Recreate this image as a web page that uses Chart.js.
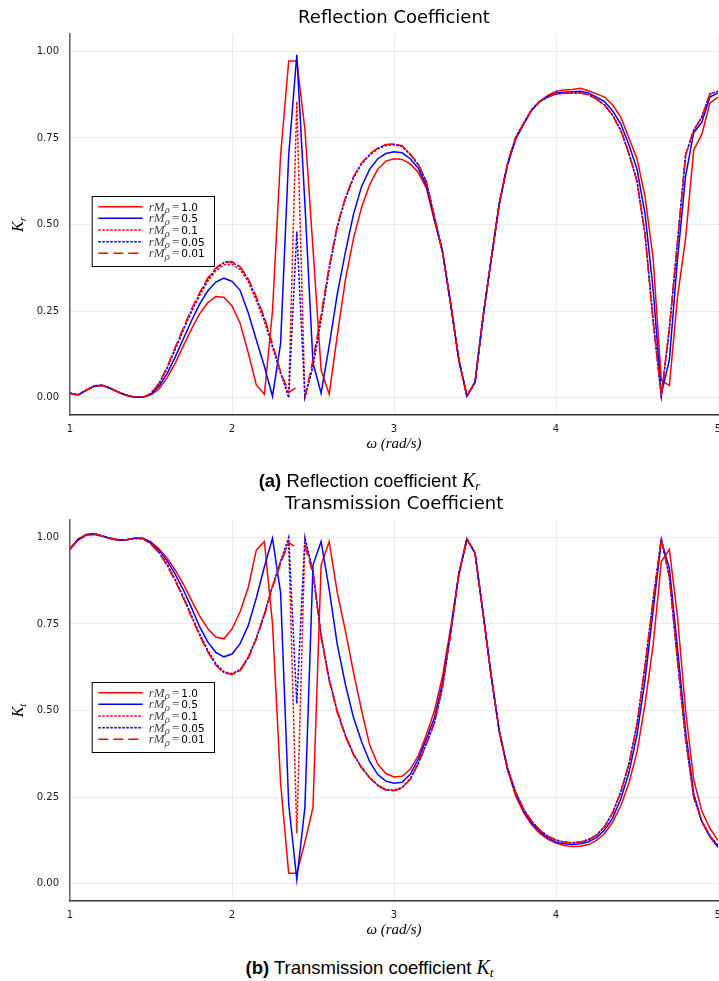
<!DOCTYPE html>
<html lang="en">

<head>
  <meta charset="UTF-8">
  <title>Reflection and Transmission Coefficients</title>
  <script src="https://cdn.jsdelivr.net/npm/chart.js"></script>
  <style>
    body { margin: 0; background: #fff; }
    #page { position: relative; width: 719px; height: 981px; overflow: hidden; }
    canvas { position: absolute; left: 0; display: block; }
    .caption {
      position: absolute; left: 10px; width: 719px; text-align: center;
      font-family: "Liberation Sans", Arial, sans-serif; font-size: 18.5px; color: #000;
      line-height: 22px; z-index: 2;
    }
    .caption .m { font-family: "Liberation Serif", serif; font-style: italic; font-size: 20px; }
    .caption sub { font-size: 13px; vertical-align: -3px; line-height: 0; }
  </style>
</head>

<body>
  <div id="page">
    <canvas id="krChart" width="719" height="455" style="top:0"></canvas>
    <div class="caption" style="top:469px"><b>(a)</b> Reflection coefficient <span class="m">K<sub>r</sub></span></div>
    <canvas id="ktChart" width="719" height="455" style="top:486px"></canvas>
    <div class="caption" style="top:956px"><b>(b)</b> Transmission coefficient <span class="m">K<sub>t</sub></span></div>
  </div>

  <script>
    // frequency grid (rad/s)
    const omega = [
      1.00, 1.05, 1.10, 1.15, 1.20, 1.25, 1.30, 1.35, 1.40, 1.45,
      1.50, 1.55, 1.60, 1.65, 1.70, 1.75, 1.80, 1.85, 1.90, 1.95,
      2.00, 2.05, 2.10, 2.15, 2.20, 2.25, 2.30, 2.35, 2.40, 2.45,
      2.50, 2.55, 2.60, 2.65, 2.70, 2.75, 2.80, 2.85, 2.90, 2.95,
      3.00, 3.05, 3.10, 3.15, 3.20, 3.25, 3.30, 3.35, 3.40, 3.45,
      3.50, 3.55, 3.60, 3.65, 3.70, 3.75, 3.80, 3.85, 3.90, 3.95,
      4.00, 4.05, 4.10, 4.15, 4.20, 4.25, 4.30, 4.35, 4.40, 4.45,
      4.50, 4.55, 4.60, 4.65, 4.70, 4.75, 4.80, 4.85, 4.90, 4.95,
      5.00
    ];
    const rmValues = ['1.0', '0.5', '0.1', '0.05', '0.01'];
    const xTicks = [1, 2, 3, 4, 5];
    const yTicks = [0, 0.25, 0.5, 0.75, 1];
    // the rM = 0.01 curve has no value between these two frequencies
    const gapFrom = 2.40;

    // Reflection coefficient Kr
    const krRm10 = [
      0.013, 0.008, 0.021, 0.032, 0.035, 0.026, 0.015, 0.006, 0.001, 0.001,
      0.008, 0.025, 0.058, 0.100, 0.150, 0.198, 0.242, 0.274, 0.292, 0.290,
      0.265, 0.215, 0.130, 0.037, 0.010, 0.250, 0.700, 0.972, 0.972, 0.775,
      0.430, 0.080, 0.010, 0.180, 0.340, 0.460, 0.550, 0.615, 0.660, 0.683,
      0.690, 0.688, 0.675, 0.650, 0.605, 0.510, 0.420, 0.270, 0.110, 0.005,
      0.044, 0.234, 0.400, 0.560, 0.670, 0.745, 0.790, 0.830, 0.856, 0.873,
      0.885, 0.888, 0.890, 0.893, 0.886, 0.877, 0.868, 0.845, 0.810, 0.750,
      0.690, 0.580, 0.400, 0.050, 0.035, 0.290, 0.460, 0.715, 0.760, 0.850,
      0.868
    ];
    const krRm05 = [
      0.013, 0.008, 0.022, 0.034, 0.036, 0.027, 0.016, 0.007, 0.001, 0.001,
      0.010, 0.033, 0.070, 0.118, 0.170, 0.222, 0.270, 0.308, 0.334, 0.345,
      0.336, 0.310, 0.245, 0.167, 0.090, 0.004, 0.157, 0.700, 0.990, 0.560,
      0.100, 0.013, 0.150, 0.300, 0.420, 0.530, 0.610, 0.660, 0.690, 0.705,
      0.710, 0.707, 0.690, 0.662, 0.612, 0.515, 0.420, 0.270, 0.110, 0.005,
      0.044, 0.234, 0.400, 0.560, 0.672, 0.747, 0.790, 0.830, 0.855, 0.870,
      0.880, 0.882, 0.883, 0.885, 0.880, 0.868, 0.855, 0.828, 0.790, 0.730,
      0.660, 0.530, 0.310, 0.010, 0.110, 0.400, 0.640, 0.765, 0.795, 0.868,
      0.880
    ];
    const krRm01 = [
      0.013, 0.008, 0.022, 0.034, 0.036, 0.027, 0.016, 0.007, 0.001, 0.001,
      0.012, 0.040, 0.085, 0.140, 0.195, 0.248, 0.295, 0.336, 0.366, 0.384,
      0.385, 0.370, 0.335, 0.280, 0.220, 0.145, 0.070, 0.012, 0.855, 0.005,
      0.095, 0.230, 0.375, 0.495, 0.575, 0.635, 0.675, 0.700, 0.718, 0.728,
      0.730, 0.725, 0.702, 0.672, 0.622, 0.520, 0.420, 0.270, 0.110, 0.005,
      0.044, 0.234, 0.400, 0.560, 0.675, 0.750, 0.792, 0.832, 0.855, 0.868,
      0.877, 0.879, 0.880, 0.880, 0.875, 0.862, 0.845, 0.815, 0.772, 0.705,
      0.625, 0.470, 0.220, 0.005, 0.200, 0.450, 0.700, 0.772, 0.810, 0.877,
      0.885
    ];
    const krRm005 = [
      0.013, 0.008, 0.022, 0.034, 0.036, 0.027, 0.016, 0.007, 0.001, 0.001,
      0.012, 0.041, 0.087, 0.143, 0.198, 0.252, 0.300, 0.342, 0.372, 0.390,
      0.390, 0.378, 0.342, 0.288, 0.228, 0.150, 0.072, 0.000, 0.480, 0.000,
      0.090, 0.225, 0.370, 0.492, 0.575, 0.636, 0.676, 0.702, 0.720, 0.730,
      0.732, 0.726, 0.703, 0.673, 0.623, 0.521, 0.420, 0.270, 0.110, 0.005,
      0.044, 0.234, 0.400, 0.560, 0.675, 0.750, 0.792, 0.832, 0.855, 0.868,
      0.877, 0.879, 0.880, 0.880, 0.875, 0.862, 0.845, 0.815, 0.772, 0.705,
      0.625, 0.470, 0.220, 0.005, 0.200, 0.450, 0.700, 0.772, 0.810, 0.877,
      0.885
    ];
    const krRm001 = [
      0.013, 0.008, 0.022, 0.034, 0.036, 0.027, 0.016, 0.007, 0.001, 0.001,
      0.012, 0.042, 0.089, 0.146, 0.202, 0.256, 0.303, 0.345, 0.374, 0.392,
      0.393, 0.378, 0.344, 0.292, 0.232, 0.155, 0.075, 0.015, 0.030, 0.000,
      0.110, 0.240, 0.380, 0.498, 0.578, 0.638, 0.678, 0.703, 0.721, 0.731,
      0.733, 0.727, 0.704, 0.674, 0.624, 0.522, 0.420, 0.270, 0.110, 0.005,
      0.044, 0.234, 0.400, 0.560, 0.675, 0.750, 0.792, 0.832, 0.855, 0.868,
      0.877, 0.879, 0.880, 0.880, 0.875, 0.862, 0.845, 0.815, 0.772, 0.705,
      0.625, 0.470, 0.220, 0.005, 0.200, 0.450, 0.700, 0.772, 0.810, 0.877,
      0.885
    ];

    // Transmission coefficient Kt
    const ktRm10 = [
      0.965, 0.992, 1.006, 1.008, 1.003, 0.996, 0.991, 0.993, 0.997, 0.997,
      0.987, 0.966, 0.940, 0.905, 0.865, 0.818, 0.773, 0.737, 0.712, 0.707,
      0.735, 0.785, 0.855, 0.963, 0.988, 0.750, 0.290, 0.030, 0.030, 0.120,
      0.220, 0.920, 0.988, 0.840, 0.730, 0.610, 0.500, 0.400, 0.345, 0.318,
      0.308, 0.310, 0.330, 0.370, 0.430, 0.500, 0.600, 0.740, 0.893, 0.995,
      0.955, 0.780, 0.600, 0.440, 0.330, 0.255, 0.205, 0.170, 0.145, 0.128,
      0.117, 0.110, 0.107, 0.108, 0.113, 0.125, 0.145, 0.178, 0.225, 0.290,
      0.380, 0.520, 0.690, 0.930, 0.965, 0.770, 0.500, 0.300, 0.210, 0.160,
      0.125
    ];
    const ktRm05 = [
      0.968, 0.995, 1.008, 1.010, 1.004, 0.997, 0.993, 0.993, 0.997, 0.997,
      0.985, 0.963, 0.932, 0.893, 0.848, 0.797, 0.742, 0.698, 0.668, 0.655,
      0.663, 0.693, 0.745, 0.825, 0.915, 0.997, 0.840, 0.230, 0.012, 0.220,
      0.920, 0.988, 0.850, 0.690, 0.575, 0.480, 0.410, 0.352, 0.315, 0.296,
      0.290, 0.293, 0.316, 0.360, 0.418, 0.480, 0.580, 0.728, 0.893, 0.995,
      0.955, 0.780, 0.600, 0.440, 0.333, 0.262, 0.211, 0.175, 0.150, 0.132,
      0.120, 0.115, 0.113, 0.115, 0.121, 0.133, 0.155, 0.190, 0.245, 0.320,
      0.430, 0.590, 0.790, 0.990, 0.910, 0.680, 0.440, 0.260, 0.180, 0.135,
      0.105
    ];
    const ktRm01 = [
      0.965, 0.993, 1.007, 1.009, 1.004, 0.997, 0.992, 0.993, 0.997, 0.996,
      0.982, 0.958, 0.922, 0.878, 0.828, 0.775, 0.722, 0.675, 0.636, 0.612,
      0.607, 0.618, 0.655, 0.710, 0.780, 0.860, 0.930, 0.985, 0.146, 0.985,
      0.905, 0.720, 0.592, 0.500, 0.430, 0.375, 0.337, 0.307, 0.285, 0.272,
      0.270, 0.278, 0.303, 0.348, 0.405, 0.465, 0.570, 0.725, 0.895, 0.995,
      0.955, 0.780, 0.600, 0.440, 0.335, 0.265, 0.215, 0.180, 0.155, 0.137,
      0.126, 0.120, 0.118, 0.120, 0.127, 0.140, 0.165, 0.205, 0.265, 0.345,
      0.460, 0.630, 0.820, 0.995, 0.885, 0.645, 0.420, 0.250, 0.180, 0.138,
      0.110
    ];
    const ktRm005 = [
      0.966, 0.993, 1.008, 1.010, 1.004, 0.997, 0.992, 0.993, 0.997, 0.996,
      0.981, 0.956, 0.920, 0.876, 0.826, 0.772, 0.719, 0.672, 0.633, 0.610,
      0.605, 0.616, 0.652, 0.707, 0.778, 0.858, 0.930, 1.000, 0.520, 1.000,
      0.900, 0.715, 0.588, 0.496, 0.427, 0.373, 0.335, 0.306, 0.284, 0.271,
      0.269, 0.277, 0.302, 0.347, 0.404, 0.465, 0.570, 0.725, 0.895, 0.995,
      0.955, 0.780, 0.600, 0.440, 0.335, 0.265, 0.215, 0.180, 0.155, 0.137,
      0.126, 0.120, 0.118, 0.120, 0.127, 0.140, 0.165, 0.205, 0.265, 0.345,
      0.460, 0.630, 0.820, 0.995, 0.885, 0.645, 0.420, 0.250, 0.180, 0.138,
      0.110
    ];
    const ktRm001 = [
      0.966, 0.993, 1.008, 1.010, 1.004, 0.997, 0.992, 0.993, 0.997, 0.996,
      0.980, 0.955, 0.918, 0.874, 0.824, 0.770, 0.717, 0.670, 0.631, 0.608,
      0.604, 0.615, 0.650, 0.705, 0.775, 0.855, 0.925, 0.985, 0.970, 0.975,
      0.895, 0.712, 0.585, 0.494, 0.425, 0.372, 0.334, 0.305, 0.283, 0.270,
      0.268, 0.276, 0.301, 0.346, 0.403, 0.465, 0.570, 0.725, 0.895, 0.995,
      0.955, 0.780, 0.600, 0.440, 0.335, 0.265, 0.215, 0.180, 0.155, 0.137,
      0.126, 0.120, 0.118, 0.120, 0.127, 0.140, 0.165, 0.205, 0.265, 0.345,
      0.460, 0.630, 0.820, 0.995, 0.885, 0.645, 0.420, 0.250, 0.180, 0.138,
      0.110
    ];

    // line styles, one per rM value
    const lineColors = ['#ff0000', '#0000ff', '#ff0000', '#0000ff', '#ff0000'];
    const lineDashes = [[], [], [2.5, 1.5], [2.5, 1.5], [10, 5]];

    Chart.defaults.font.family = '"DejaVu Sans", sans-serif';
    Chart.defaults.color = '#1a1a1a';

    function buildDatasets(seriesList) {
      const gapIndex = omega.indexOf(gapFrom);
      return seriesList.map((values, i) => ({
        label: rmValues[i],
        data: omega.map((w, j) => ({ x: w, y: values[j] })),
        borderColor: lineColors[i],
        borderDash: lineDashes[i],
        borderWidth: 1.5,
        pointRadius: 0,
        tension: 0,
        fill: false,
        order: seriesList.length - i, // last series drawn on top
        segment: i === seriesList.length - 1 ? {
          borderColor: c => (c.p0DataIndex === gapIndex ? 'rgba(0,0,0,0)' : undefined)
        } : undefined
      }));
    }

    // axis titles and the inset legend, drawn with mixed math fonts
    const mathOverlay = {
      id: 'mathOverlay',
      afterDraw(chart, args, opts) {
        const ctx = chart.ctx;
        const a = chart.chartArea;
        ctx.save();
        ctx.fillStyle = '#000';
        ctx.textBaseline = 'alphabetic';

        // y title K_sub, rotated
        ctx.save();
        ctx.translate(18, (a.top + a.bottom) / 2);
        ctx.rotate(-Math.PI / 2);
        ctx.font = 'italic 16px "Liberation Serif", serif';
        const kw = ctx.measureText('K').width;
        ctx.font = 'italic 11px "Liberation Serif", serif';
        const sw = ctx.measureText(opts.sub).width;
        ctx.font = 'italic 16px "Liberation Serif", serif';
        ctx.fillText('K', -(kw + sw) / 2, 5);
        ctx.font = 'italic 11px "Liberation Serif", serif';
        ctx.fillText(opts.sub, -(kw + sw) / 2 + kw, 8);
        ctx.restore();

        // x title
        ctx.font = 'italic 15px "Liberation Serif", serif';
        ctx.textAlign = 'center';
        ctx.fillText('\u03c9 (rad/s)', (a.left + a.right) / 2, a.bottom + 33);
        ctx.textAlign = 'left';

        // legend box
        const bx = a.left + 21.7, by = a.top + 162, bw = 122.3, bh = 70;
        ctx.fillStyle = '#fff';
        ctx.fillRect(bx, by, bw, bh);
        ctx.strokeStyle = '#000';
        ctx.lineWidth = 1;
        ctx.setLineDash([]);
        ctx.strokeRect(bx + 0.5, by + 0.5, bw, bh);

        chart.data.datasets.forEach((ds, i) => {
          const cy = by + 10.7 + i * 11.65;
          ctx.strokeStyle = ds.borderColor;
          ctx.lineWidth = 1.5;
          ctx.setLineDash(ds.borderDash);
          ctx.beginPath();
          ctx.moveTo(bx + 6.6, cy);
          ctx.lineTo(bx + 51, cy);
          ctx.stroke();
          ctx.setLineDash([]);

          let tx = bx + 57;
          ctx.fillStyle = '#444';
          ctx.font = 'italic 13px "Liberation Serif", serif';
          ctx.fillText('rM', tx, cy + 4);
          tx += ctx.measureText('rM').width;
          ctx.font = 'italic 9px "DejaVu Serif", serif';
          ctx.fillText('\u03c1', tx, cy + 6.5);
          tx += ctx.measureText('\u03c1').width + 2;
          ctx.font = '13px "Liberation Serif", serif';
          ctx.fillText('=', tx, cy + 4);
          tx += ctx.measureText('=').width + 2;
          ctx.fillStyle = '#000';
          ctx.font = '10.5px "DejaVu Sans", sans-serif';
          ctx.fillText(ds.label, tx, cy + 4);
        });
        ctx.restore();
      }
    };

    function makeChart(canvasId, title, sub, seriesList) {
      return new Chart(document.getElementById(canvasId), {
        type: 'line',
        data: { datasets: buildDatasets(seriesList) },
        plugins: [mathOverlay],
        options: {
          responsive: false,
          animation: false,
          devicePixelRatio: 1,
          layout: { padding: { left: 0, right: 1, top: 0, bottom: 0 } },
          plugins: {
            legend: { display: false },
            tooltip: { enabled: false },
            title: {
              display: true,
              text: title,
              fullSize: false,
              color: '#000',
              font: { size: 18, weight: 'normal' },
              padding: { top: 8, bottom: 4.4 }
            },
            mathOverlay: { sub: sub }
          },
          scales: {
            x: {
              type: 'linear',
              min: 1,
              max: 5,
              afterBuildTicks: s => { s.ticks = xTicks.map(v => ({ value: v })); },
              afterFit: s => { s.height = 40; s.paddingLeft = 0; s.paddingRight = 0; },
              ticks: { font: { size: 10 }, padding: 8, maxRotation: 0, callback: v => String(v) },
              grid: { color: '#ebebeb', drawTicks: false },
              border: { color: '#333', width: 1.5 }
            },
            y: {
              type: 'linear',
              min: -0.05,
              max: 1.05,
              afterBuildTicks: s => { s.ticks = yTicks.map(v => ({ value: v })); },
              afterFit: s => { s.width = 70; },
              ticks: { font: { size: 10 }, padding: 11, callback: v => Number(v).toFixed(2) },
              grid: { color: '#ebebeb', drawTicks: false },
              border: { color: '#666', width: 1.5 }
            }
          }
        }
      });
    }

    makeChart('krChart', 'Reflection Coefficient', 'r', [krRm10, krRm05, krRm01, krRm005, krRm001]);
    makeChart('ktChart', 'Transmission Coefficient', 't', [ktRm10, ktRm05, ktRm01, ktRm005, ktRm001]);
  </script>
</body>

</html>
